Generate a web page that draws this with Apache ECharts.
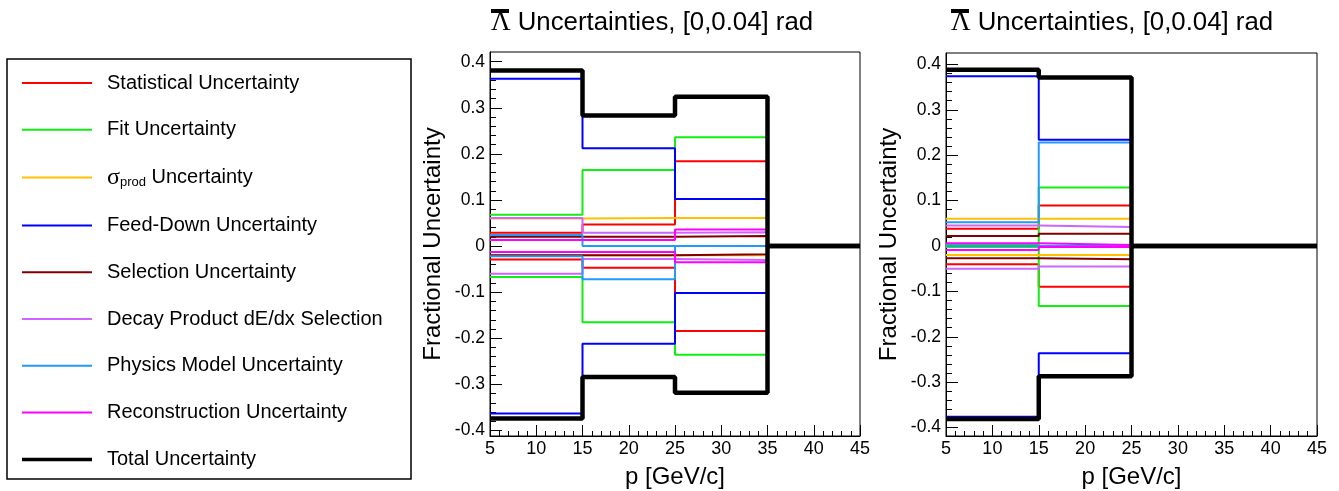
<!DOCTYPE html>
<html>
<head>
<meta charset="utf-8">
<script src="https://cdn.jsdelivr.net/npm/echarts@6/dist/echarts.min.js"></script>
<style>html,body{margin:0;padding:0;background:#fff;}#c{width:1339px;height:491px;}</style>
</head>
<body>
<div id="c"></div>
<script>
// ---- data ----
const binEdges = [5, 15, 25, 35, 45];
const names = ['Statistical Uncertainty','Fit Uncertainty','σprod Uncertainty','Feed-Down Uncertainty','Selection Uncertainty','Decay Product dE/dx Selection','Physics Model Uncertainty','Reconstruction Uncertainty','Total Uncertainty'];
const colors = ['#ff0000','#11ee11','#ffc000','#0000ff','#800000','#cc66ff','#2299ff','#ff00ff','#000000'];

// left panel (bins 5-15, 15-25, 25-35, 35-45)
const L_stat_up = [0.029, 0.047, 0.184, 0];   const L_stat_dn = [-0.029, -0.047, -0.184, 0];
const L_fit_up  = [0.068, 0.165, 0.236, 0];   const L_fit_dn  = [-0.067, -0.165, -0.236, 0];
const L_sig_up  = [0.060, 0.061, 0.061, 0];   const L_sig_dn  = [-0.020, -0.020, -0.020, 0];
const L_fd_up   = [0.363, 0.212, 0.102, 0];   const L_fd_dn   = [-0.363, -0.212, -0.102, 0];
const L_sel_up  = [0.020, 0.020, 0.022, 0];   const L_sel_dn  = [-0.020, -0.020, -0.018, 0];
const L_dedx_up = [0.061, 0.029, 0.030, 0];   const L_dedx_dn = [-0.060, -0.028, -0.030, 0];
const L_phys_up = [0.024, 0.000, 0.000, 0];   const L_phys_dn = [-0.022, -0.072, 0.000, 0];
const L_rec_up  = [0.013, 0.013, 0.036, 0];   const L_rec_dn  = [-0.013, -0.013, -0.035, 0];
const L_tot_up  = [0.381, 0.283, 0.324, 0];   const L_tot_dn  = [-0.374, -0.284, -0.318, 0];

// right panel
const R_stat_up = [0.038, 0.089, 0, 0];   const R_stat_dn = [-0.040, -0.090, 0, 0];
const R_fit_up  = [0.002, 0.129, 0, 0];   const R_fit_dn  = [-0.002, -0.132, 0, 0];
const R_sig_up  = [0.060, 0.060, 0, 0];   const R_sig_dn  = [-0.020, -0.020, 0, 0];
const R_fd_up   = [0.374, 0.234, 0, 0];   const R_fd_dn   = [-0.376, -0.236, 0, 0];
const R_sel_up  = [0.022, 0.027, 0, 0];   const R_sel_dn  = [-0.027, -0.029, 0, 0];
const R_dedx_up = [0.045, 0.042, 0, 0];   const R_dedx_dn = [-0.050, -0.045, 0, 0];
const R_phys_up = [0.052, 0.228, 0, 0];   const R_phys_dn = [0.000, 0.000, 0, 0];
const R_rec_up  = [0.006, 0.002, 0, 0];   const R_rec_dn  = [-0.009, -0.002, 0, 0];
const R_tot_up  = [0.388, 0.371, 0, 0];   const R_tot_dn  = [-0.381, -0.287, 0, 0];

const yMajor = [-0.4, -0.3, -0.2, -0.1, 0, 0.1, 0.2, 0.3, 0.4];
const xTicks = [5, 10, 15, 20, 25, 30, 35, 40, 45];
const titleText = ' Uncertainties, [0,0.04] rad';
const yTitle = 'Fractional Uncertainty';
const xTitle = 'p [GeV/c]';

// ---- build ----
const leftSets = [[L_stat_up,L_stat_dn],[L_fit_up,L_fit_dn],[L_sig_up,L_sig_dn],[L_fd_up,L_fd_dn],[L_sel_up,L_sel_dn],[L_dedx_up,L_dedx_dn],[L_phys_up,L_phys_dn],[L_rec_up,L_rec_dn],[L_tot_up,L_tot_dn]];
const rightSets = [[R_stat_up,R_stat_dn],[R_fit_up,R_fit_dn],[R_sig_up,R_sig_dn],[R_fd_up,R_fd_dn],[R_sel_up,R_sel_dn],[R_dedx_up,R_dedx_dn],[R_phys_up,R_phys_dn],[R_rec_up,R_rec_dn],[R_tot_up,R_tot_dn]];

function hist(vals) {
  return binEdges.map((x, i) => [x, vals[Math.min(i, vals.length - 1)]]);
}
const yMinor = [];
for (let i = 0; i < yMajor.length - 1; i++) {
  for (let k = 1; k < 5; k++) yMinor.push(+(yMajor[i] + k * 0.02).toFixed(3));
}

const FONT = 'Liberation Sans';
const series = [];
[leftSets, rightSets].forEach((sets, p) => {
  sets.forEach((pair, k) => {
    pair.forEach(vals => {
      series.push({
        name: names[k], type: 'line', step: 'end', symbol: 'none', showSymbol: false,
        xAxisIndex: p, yAxisIndex: p * 2, data: hist(vals), silent: true,
        lineStyle: { color: colors[k], width: k === 8 ? 4.5 : 2 },
        itemStyle: { color: colors[k] },
        z: k === 8 ? 5 : 2
      });
    });
  });
});

const grids = [
  { left: 490, right: 1339 - 860, top: 52, bottom: 491 - 436 },
  { left: 946, right: 1339 - 1317, top: 53, bottom: 491 - 436 }
];
const yRanges = [[-0.412, 0.421], [-0.4185, 0.425]];

const xAxes = grids.map((g, i) => ({
  type: 'value', gridIndex: i, min: 5, max: 45, interval: 5,
  axisLine: { show: true, onZero: false, lineStyle: { color: '#000', width: 1 } },
  axisTick: { show: true, inside: true, length: 11, lineStyle: { color: '#000', width: 1 } },
  minorTick: { show: true, splitNumber: 5, length: 5, lineStyle: { color: '#000', width: 1 } },
  axisLabel: { color: '#000', fontSize: 18, fontFamily: FONT, margin: 4 },
  splitLine: { show: false }, minorSplitLine: { show: false },
  name: xTitle, nameLocation: 'middle', nameGap: 29,
  nameTextStyle: { color: '#000', fontSize: 24, fontFamily: FONT }
}));
const yAxes = [];
grids.forEach((g, i) => {
  yAxes.push({
    type: 'value', gridIndex: i, min: yRanges[i][0], max: yRanges[i][1],
    axisLine: { show: true, onZero: false, lineStyle: { color: '#000', width: 1 } },
    axisTick: { show: true, inside: true, length: 12, customValues: yMajor, lineStyle: { color: '#000', width: 1 } },
    axisLabel: { customValues: yMajor, color: '#000', fontSize: 17.5, fontFamily: FONT, margin: 5,
      formatter: v => { const r = Math.round(v * 10) / 10; return r === 0 ? '0' : String(r); } },
    splitLine: { show: false },
    name: yTitle, nameLocation: 'middle', nameGap: 45, nameRotate: 90,
    nameTextStyle: { color: '#000', fontSize: 24, fontFamily: FONT }
  });
  yAxes.push({
    type: 'value', gridIndex: i, min: yRanges[i][0], max: yRanges[i][1], position: 'left',
    axisLine: { show: false, onZero: false },
    axisTick: { show: true, inside: true, length: 6, customValues: yMinor, lineStyle: { color: '#000', width: 1 } },
    axisLabel: { show: false },
    splitLine: { show: false }
  });
});

const titleRich = {
  bar: { width: 18, height: 4, lineHeight: 4, backgroundColor: '#000' },
  g: { fontFamily: 'Liberation Serif', fontSize: 27, lineHeight: 20, color: '#000' }
};
const titles = [491, 951].map(x => ({
  text: '{bar|}\n{g|Λ}' + titleText, left: x, top: 9, padding: 0,
  textStyle: { fontSize: 25.8, fontFamily: FONT, fontWeight: 'normal', color: '#000', lineHeight: 20, rich: titleRich }
}));

const legendData = names.map((n, k) => ({
  name: n,
  icon: k === 8 ? 'path://M0,0 H70 V3.5 H0 Z' : 'path://M0,0 H70 V2 H0 Z'
}));

const option = {
  animation: false,
  backgroundColor: '#fff',
  title: titles,
  grid: grids.map(g => Object.assign({ show: true, borderColor: '#000', borderWidth: 1, backgroundColor: 'transparent', containLabel: false, outerBoundsMode: 'none' }, g)),
  xAxis: xAxes,
  yAxis: yAxes,
  legend: {
    data: legendData, orient: 'vertical', left: 22, top: 72, itemWidth: 70, itemHeight: 14, itemGap: 24.8,
    selectedMode: false, padding: 0, symbolKeepAspect: true,
    formatter: n => n === 'σprod Uncertainty' ? '{g|σ}{sub|prod} Uncertainty' : n,
    textStyle: { fontSize: 20, fontFamily: FONT, color: '#000', lineHeight: 22, padding: [0, 0, 0, 10],
      rich: {
        g: { fontFamily: 'Liberation Serif', fontSize: 24, lineHeight: 22 },
        sub: { fontSize: 13, lineHeight: 8, verticalAlign: 'bottom' }
      } }
  },
  graphic: [{ type: 'rect', shape: { x: 7, y: 59, width: 404, height: 420 }, style: { fill: 'none', stroke: '#000', lineWidth: 1.5 }, silent: true }],
  series: series
};
const chart = echarts.init(document.getElementById('c'));
chart.setOption(option);
</script>
</body>
</html>
